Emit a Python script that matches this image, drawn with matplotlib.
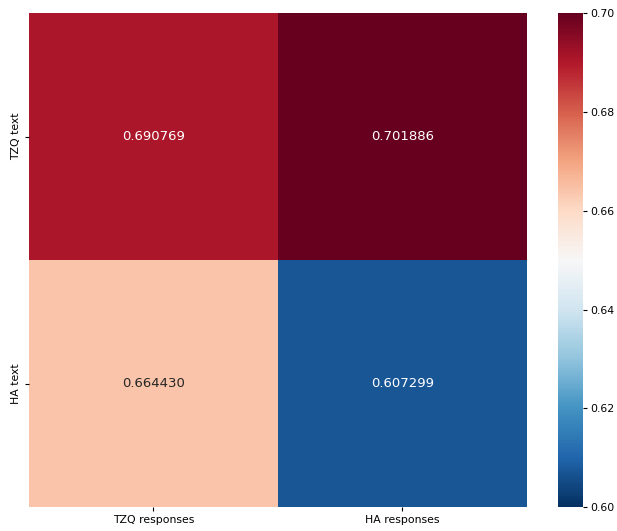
import numpy as np
import matplotlib
matplotlib.use("Agg")
import matplotlib.pyplot as plt
import seaborn as sns

row_labels = ["TZQ text", "HA text"]
col_labels = ["TZQ responses", "HA responses"]
values = np.array([[0.690769, 0.701886],
                   [0.664430, 0.607299]])

fig = plt.figure(figsize=(6.17, 5.31), dpi=100)
ax = fig.add_axes([0.047, 0.045, 0.807, 0.930])
cax = fig.add_axes([0.904, 0.045, 0.041, 0.930])

sns.heatmap(values, ax=ax, cbar_ax=cax, cmap="RdBu_r", vmin=0.6, vmax=0.7,
            annot=True, fmt="f", annot_kws={"size": 9.5},
            xticklabels=col_labels, yticklabels=row_labels)
ax.tick_params(labelsize=7.8, length=2.7, pad=2.7)
cax.tick_params(labelsize=7.8, length=2.7, pad=2.7)

fig.savefig("out.png", dpi=100)
